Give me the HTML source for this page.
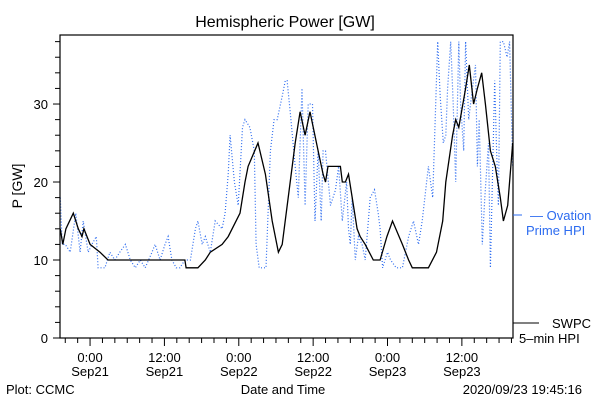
<!DOCTYPE html>
<html><head><meta charset="utf-8"><style>
body{margin:0;background:#fff}
svg{display:block}
text{font-family:"Liberation Sans","DejaVu Sans",sans-serif;font-size:13px}
</style></head><body>
<svg id="chart" width="600" height="400" viewBox="0 0 600 400">
<rect width="600" height="400" fill="#fff"/>
<text x="285" y="27" text-anchor="middle" style="font-size:16px">Hemispheric Power [GW]</text>
<defs><clipPath id="pc"><rect x="60" y="35" width="453" height="303"/></clipPath></defs>
<g id="series" clip-path="url(#pc)"></g>
<rect x="60" y="35" width="453" height="303" fill="none" stroke="#000" stroke-width="1.2"/>
<g id="axes"></g>
<text transform="translate(22,186) rotate(-90)" text-anchor="middle" style="font-size:14px">P [GW]</text>
<text x="283" y="394" text-anchor="middle">Date and Time</text>
<text x="6" y="394">Plot: CCMC</text>
<text x="582" y="394" text-anchor="end">2020/09/23 19:45:16</text>
<line x1="513" y1="215" x2="522" y2="215" stroke="#2d6cf0" stroke-width="1"/>
<text x="530" y="220" fill="#2d6cf0">— Ovation</text>
<text x="526" y="235" fill="#2d6cf0">Prime HPI</text>
<line x1="513" y1="323" x2="539" y2="323" stroke="#000" stroke-width="1"/>
<text x="552" y="328">SWPC</text>
<text x="519" y="343">5–min HPI</text>
</svg>
<script>
const swpcHours=[-4.8,-4.4,-3.9,-2.7,-1.9,-1.3,-1.0,0,1.6,2.9,15.3,15.5,17.4,18.6,19.4,21.3,22.3,24.2,25,25.5,27.1,28.3,29.4,30.4,31,32.3,33.1,33.9,34.7,35.5,36.8,37.6,38,38.4,40.4,40.7,41.2,41.7,42.3,43.1,43.6,44.4,45.7,46.8,47.9,48.8,50.4,51.4,52,54.6,55.9,56.9,57.4,58.5,59,59.5,60.6,61.2,61.9,62.5,63.2,63.8,64.6,65.4,66.2,66.7,67.4,68.2];
const swpcValues=[14,12,14,16,14,13,14,12,11,10,10,9,9,10,11,12,13,16,20,22,25,21,15,11,12,20,25,29,26,29,24,21,20,22,22,20,20,21,18,14,13,12,10,10,13,15,12,10,9,9,11,15,20,26,28,27,32,35,30,32,34,30,24,22,18,15,17,25];
const ovationHours=[-4.8,-4.5,-4,-3.2,-2.3,-1.6,-1.1,-0.3,0.3,1,1.3,2.4,3.2,4,4.8,5.7,6.5,7.3,8.1,8.9,10,10.5,11.3,12.1,12.6,13.2,13.9,14.5,15.3,16.2,17,17.4,18.1,18.6,19.4,20.2,21.3,21.8,22.3,22.6,23.3,23.9,24.6,25,25.8,26.5,26.8,27.3,28.4,29.1,29.7,30.2,31,31.5,31.8,32.3,33.1,33.6,33.9,34.2,34.7,35.2,35.9,36.3,36.8,37.3,37.6,38,38.8,39.6,40.1,40.7,41.4,41.7,42,42.3,42.8,43.3,43.9,44.4,45.2,45.9,46.5,46.8,47.2,48,48.5,49.4,50.4,51.4,52.2,53,53.6,54.6,55.3,55.7,56.1,56.5,57,57.4,57.7,58.2,58.6,59,59.5,59.8,60.3,60.6,61.1,61.7,62.2,62.5,62.8,63.3,63.7,64.3,64.6,65.3,65.6,65.9,66.2,66.7,67.3,67.7,68.2];
const ovationValues=[18,12,12,11,16,11,15,11,12,13,9,9,11,10,11,12,10,9,10,9,11,12,10,12,13,10,9,9,10,10,14,15,12,13,11,15,14,16,21,26,20,17,27,28,27,24,12,9,9,24,28,28,31,33,33,29,22,18,25,32,17,30,30,15,24,15,24,24,17,19,22,15,20,14,12,18,10,13,12,10,18,19,16,14,9,11,10,9,9,13,15,12,15,22,18,28,38,31,25,26,32,38,30,20,38,30,24,38,28,32,35,22,28,12,18,25,9,33,24,17,38,38,36,38,22];
const yTicks=[0,10,20,30];
const xTickHours=[0,12,24,36,48,60];
const xTickTimes=["0:00","12:00","0:00","12:00","0:00","12:00"];
const xTickDates=["Sep21","Sep21","Sep22","Sep22","Sep23","Sep23"];
const NS="http://www.w3.org/2000/svg";
const X0=60,X1=513,Y0=338,Y1=35,TMIN=-4.85,TMAX=68.25,VMIN=0,VMAX=38.85;
function xs(t){return X0+(t-TMIN)/(TMAX-TMIN)*(X1-X0);}
function ys(v){return Y0-(v-VMIN)/(VMAX-VMIN)*(Y0-Y1);}
function mk(tag,attrs,parent){const e=document.createElementNS(NS,tag);for(const k in attrs)e.setAttribute(k,attrs[k]);parent.appendChild(e);return e;}
const series=document.getElementById('series'),axes=document.getElementById('axes');
function pts(h,v){return h.map((t,i)=>xs(t).toFixed(1)+','+ys(v[i]).toFixed(1)).join(' ');}
const ov=mk('polyline',{points:pts(ovationHours,ovationValues),fill:'none',stroke:'#2d6cf0','stroke-width':1.2,'stroke-dasharray':'1 2'},series);


const sw=mk('polyline',{points:pts(swpcHours,swpcValues),fill:'none',stroke:'#000','stroke-width':1.3},series);


for(let v=0;v<=38;v+=2){const major=v%10===0;const t=mk('line',{x1:X0-(major?7:5),x2:X0,y1:ys(v),y2:ys(v),stroke:'#000'},axes);

}
yTicks.forEach(v=>{const l=mk('text',{x:48,y:ys(v)+5,'text-anchor':'end'},axes);l.textContent=v;

});
for(let h=-4;h<=68;h+=2){const major=h%12===0;const t=mk('line',{x1:xs(h),x2:xs(h),y1:Y0,y2:Y0+(major?8:5),stroke:'#000'},axes);

}
xTickHours.forEach((h,i)=>{const a=mk('text',{x:xs(h),y:362,'text-anchor':'middle'},axes);a.textContent=xTickTimes[i];


const b=mk('text',{x:xs(h),y:376,'text-anchor':'middle'},axes);b.textContent=xTickDates[i];

});
</script>
</body></html>
